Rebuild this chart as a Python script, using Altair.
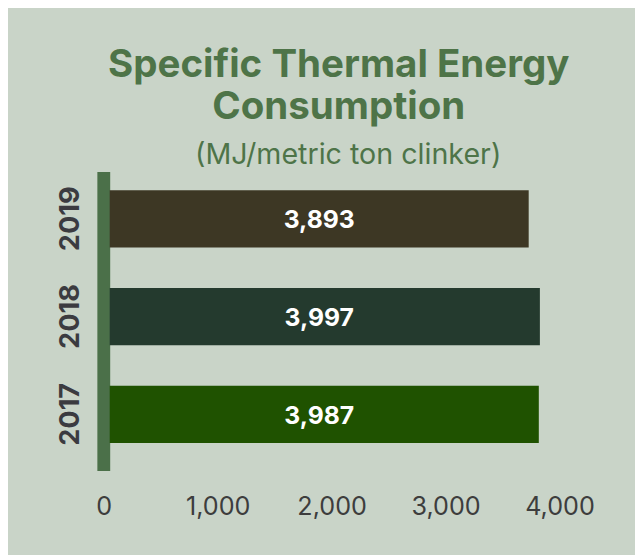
import altair as alt
import pandas as pd

years = ["2019", "2018", "2017"]
values = [3893, 3997, 3987]
bar_colors = ["#3d3724", "#243a2e", "#1f5200"]
tick_values = [0, 1000, 2000, 3000, 4000]

title_lines = ["Specific Thermal Energy", "Consumption"]
subtitle_text = "(MJ/metric ton clinker)"

df = pd.DataFrame({"year": years, "value": values})
ticks_df = pd.DataFrame({"tick": tick_values})

GREEN = "#4e7448"
FONT = "Inter"

y_enc = alt.Y(
    "year:N",
    sort=years,
    scale=alt.Scale(paddingInner=0.414, paddingOuter=0.237, align=0.404),
    axis=alt.Axis(
        title=None,
        labelAngle=270,
        labelAlign="center",
        labelBaseline="alphabetic",
        labelPadding=25.5,
        labelFont=FONT,
        labelFontSize=27.5,
        labelFontWeight="bold",
        labelColor="#3b3b40",
        domainColor="#4b7049",
        domainWidth=13,
        domainCap="butt",
        offset=6.5,
        ticks=False,
        tickSize=0,
        grid=False,
    ),
)

bar_scale = alt.Scale(domain=[0, 4000], range=[0, 436], nice=False)

bars = alt.Chart(df).mark_bar().encode(
    y=y_enc,
    x=alt.X("value:Q", scale=bar_scale, axis=None),
    color=alt.Color("year:N", scale=alt.Scale(domain=years, range=bar_colors), legend=None),
)

labels = (
    alt.Chart(df)
    .transform_joinaggregate(minv="min(value)")
    .transform_calculate(mid="datum.minv / 2")
    .mark_text(font=FONT, fontSize=25, fontWeight="bold", color="white", dy=1.5)
    .encode(
        y=alt.Y("year:N", sort=years),
        x=alt.X("mid:Q", scale=bar_scale, axis=None),
        text=alt.Text("value:Q", format=","),
    )
)

tick_scale = alt.Scale(domain=[0, 4000], range=[-6, 455.5], nice=False)

axis_layer = alt.Chart(ticks_df).mark_point(opacity=0).encode(
    x=alt.X(
        "tick:Q",
        scale=tick_scale,
        axis=alt.Axis(
            orient="bottom",
            title=None,
            values=tick_values,
            format=",.0f",
            labelFont=FONT,
            labelFontSize=25.5,
            labelColor="#3d3d3d",
            labelBaseline="alphabetic",
            labelPadding=44,
            labelFlush=False,
            labelOverlap=False,
            domain=False,
            ticks=False,
            tickSize=0,
            grid=False,
        ),
    )
)

subtitle_layer = alt.Chart(ticks_df).mark_point(opacity=0).encode(
    x=alt.X(
        "tick:Q",
        scale=tick_scale,
        axis=alt.Axis(
            orient="top",
            title=subtitle_text,
            titleFont=FONT,
            titleFontSize=29,
            titleFontWeight="normal",
            titleColor=GREEN,
            titleX=241,
            titleY=-8,
            titleAlign="center",
            titleBaseline="alphabetic",
            titleAngle=0,
            labels=False,
            domain=False,
            ticks=False,
            tickSize=0,
            grid=False,
        ),
    )
)

chart = (
    alt.layer(alt.layer(bars, labels), axis_layer, subtitle_layer)
    .resolve_scale(x="independent")
    .properties(
        width=454,
        height=303,
        padding={"left": 103, "top": 162, "right": 78, "bottom": 82},
        autosize=alt.AutoSizeParams(type="none"),
        background="#c9d4c8",
        title=alt.TitleParams(
            text=title_lines,
            font=FONT,
            fontSize=39,
            fontWeight="bold",
            color=GREEN,
            lineHeight=43,
            anchor="middle",
            frame="group",
            offset=14,
            dx=5,
        ),
    )
    .configure_view(stroke=None)
)

chart.save("out.html", embed_options={"renderer": "svg", "actions": False})
